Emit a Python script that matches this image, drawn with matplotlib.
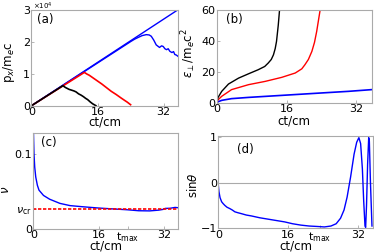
import numpy as np
import matplotlib
matplotlib.use('Agg')
import matplotlib.pyplot as plt

# (a) longitudinal momentum, units of 1e4
t_ref = [0, 35.5]
p_ref = [0, 3.0]
t_pa_k = [0, 7.6, 8.2, 8.8, 9.1, 9.6, 10.3, 10.8, 11.4, 12.0, 12.6, 13.1, 13.6, 14.2, 14.8, 15.6]
p_pa_k = [0, 0.625, 0.57, 0.53, 0.51, 0.49, 0.46, 0.43, 0.37, 0.33, 0.28, 0.23, 0.19, 0.12, 0.06, 0.0]
t_pa_r = [0, 12.8, 13.4, 14.0, 15.0, 16.0, 17.0, 18.0, 19.3, 20.5, 21.7, 22.5, 23.2, 24.0]
p_pa_r = [0, 1.04, 0.99, 0.95, 0.86, 0.77, 0.68, 0.58, 0.45, 0.35, 0.24, 0.17, 0.11, 0.03]
t_pa_b = [0, 24.1, 25.0, 25.8, 26.8, 27.8, 28.5, 29.0, 29.6, 30.2, 30.6, 31.0, 31.5, 31.9,
          32.3, 32.7, 33.1, 33.5, 34.0, 34.4, 34.7, 35.1, 35.5]
p_pa_b = [0, 2.01, 2.08, 2.13, 2.19, 2.22, 2.21, 2.17, 2.05, 1.90, 1.86, 1.82, 1.87, 1.85,
          1.78, 1.75, 1.78, 1.70, 1.66, 1.69, 1.60, 1.58, 1.54]

# (b) transverse energy
t_eb_k = [0, 0.3, 1.15, 2.7, 5.0, 7.3, 9.5, 11.0, 11.8, 12.5, 13.0, 13.4, 13.7, 14.1, 14.4]
e_eb_k = [0, 3.5, 7.5, 12.2, 16, 18.8, 21.4, 23.5, 25.7, 28, 31, 35, 39.6, 50, 60]
t_eb_r = [0, 0.3, 1.15, 3.4, 7.3, 11.1, 14.9, 18.0, 19.5, 20.2, 21.0, 21.8, 22.4, 22.9, 23.3, 23.7]
e_eb_r = [0, 2, 4.3, 8.6, 11.8, 13.9, 16.5, 19.3, 22, 24.6, 28, 33.2, 39, 46, 53, 60]
t_eb_b = [0, 0.3, 1.15, 3.4, 7.3, 14.9, 22.5, 30.2, 35.5]
e_eb_b = [0, 0.8, 1.7, 2.8, 3.6, 4.9, 6.2, 7.5, 8.6]

# (c) nu
t_nu = [0.05, 0.1, 0.17, 0.35, 0.6, 1.0, 1.4, 2.5, 4.0, 6.5, 9.0, 12.1, 16.0, 20.2, 23.0,
        25.8, 28.5, 30.7, 31.8, 32.3, 33.5, 34.7, 35.5]
nu = [0.127, 0.115, 0.1, 0.082, 0.069, 0.058, 0.0515, 0.0445, 0.0395, 0.034, 0.031, 0.0295,
      0.0278, 0.0264, 0.0255, 0.0242, 0.024, 0.025, 0.026, 0.0273, 0.0275, 0.0286, 0.0282]
nu_cr = 0.026
t_max = 23.2

# (d) sin theta
t_sin = [0, 0.15, 0.4, 0.76, 1.1, 1.5, 2.0, 2.65, 3.2, 3.8, 4.5, 5.3, 6.4, 7.6, 9.5, 11.4,
         13.3, 15.2, 17.0, 18.9, 20.8, 22.7, 24.3, 25.8, 27.0, 28.0, 28.8, 29.5, 30.3, 31.1,
         31.7, 32.2, 32.6, 33.0, 33.3, 33.6, 33.75, 33.95, 34.2, 34.45, 34.6, 34.85, 35.2]
sin_th = [-0.05, -0.2, -0.33, -0.42, -0.46, -0.5, -0.54, -0.57, -0.6, -0.64, -0.66, -0.68,
          -0.71, -0.73, -0.77, -0.8, -0.83, -0.86, -0.9, -0.93, -0.95, -0.96, -0.97, -0.95,
          -0.9, -0.78, -0.6, -0.32, 0.12, 0.62, 0.88, 0.98, 0.85, 0.3, -0.4, -0.95, -0.98,
          -0.5, 0.4, 0.98, 0.9, 0.0, -0.95]

fs = 8.5
spine_c = '#aaaaaa'

fig = plt.figure(figsize=(3.74, 2.52), dpi=100)
ax1 = fig.add_axes([0.0842, 0.5806, 0.392, 0.381])
ax2 = fig.add_axes([0.5794, 0.5913, 0.4144, 0.370])
ax3 = fig.add_axes([0.089, 0.0913, 0.3877, 0.380])
ax4 = fig.add_axes([0.5837, 0.094, 0.4144, 0.367])

xl_y = {ax1: -0.10, ax2: -0.125, ax3: -0.11, ax4: -0.12}
for ax in [ax1, ax2, ax3, ax4]:
    for s in ax.spines.values():
        s.set_color(spine_c)
        s.set_linewidth(0.8)
    ax.tick_params(direction='in', length=2, width=0.6, color=spine_c,
                   labelsize=8, pad=1)
    ax.set_xlim(0, 35.5)
    ax.set_xlabel('ct/cm', fontsize=8.5)
    ax.xaxis.set_label_coords(0.5, xl_y[ax])

# (a)
ax1.plot(t_ref, p_ref, color='b', lw=1)
ax1.plot(t_pa_b, p_pa_b, color='b', lw=1)
ax1.plot(t_pa_r, p_pa_r, color='r', lw=1.2)
ax1.plot(t_pa_k, p_pa_k, color='k', lw=1.2)
ax1.set_ylim(0, 3)
ax1.set_yticks([0, 1, 2, 3])
ax1.set_xticks([0, 16, 32])
fig.text(0.088, 0.999, r'$\times10^4$', fontsize=5, va='top', ha='left')
ax1.set_ylabel('p$_x$/m$_e$c', fontsize=fs)
ax1.yaxis.set_label_coords(-0.099, 0.455)
ax1.text(0.04, 0.97, '(a)', transform=ax1.transAxes, fontsize=fs, va='top')

# (b)
ax2.plot(t_eb_b, e_eb_b, color='b', lw=1.2)
ax2.plot(t_eb_r, e_eb_r, color='r', lw=1)
ax2.plot(t_eb_k, e_eb_k, color='k', lw=1)
ax2.set_ylim(0, 60)
ax2.set_yticks([0, 20, 40, 60])
ax2.set_xticks([0, 16, 32])
ax2.set_ylabel(r'$\varepsilon_\perp$/m$_e$c$^2$', fontsize=fs)
ax2.yaxis.set_label_coords(-0.12, 0.536)
ax2.text(0.06, 0.97, '(b)', transform=ax2.transAxes, fontsize=fs, va='top')

# (c)
ax3.plot(t_nu, nu, color='b', lw=1)
ax3.axhline(nu_cr, color='r', lw=1.2, ls=(0, (2, 1)))
ax3.set_ylim(0, 0.127)
ax3.set_yticks([0, nu_cr, 0.1])
ax3.set_yticklabels(['0', r'$\nu_{\rm cr}$', '0.1'])
ax3.set_xticks([0, 16, t_max, 32])
ax3.set_xticklabels(['0', '16', 't$_{\\rm max}$', '32'])
ax3.set_ylabel(r'$\nu$', fontsize=fs)
ax3.yaxis.set_label_coords(-0.147, 0.41)
ax3.text(0.05, 0.97, '(c)', transform=ax3.transAxes, fontsize=fs, va='top')

# (d)
ax4.axhline(0, color=spine_c, lw=0.8)
ax4.plot(t_sin, sin_th, color='b', lw=1)
ax4.set_ylim(-1.0, 1.02)
ax4.set_yticks([-1, 0, 1])
ax4.set_xticks([0, 16, t_max, 32])
ax4.set_xticklabels(['0', '16', 't$_{\\rm max}$', '32'])
ax4.set_ylabel(r'sin$\theta$', fontsize=fs)
ax4.yaxis.set_label_coords(-0.118, 0.468)
ax4.text(0.12, 0.92, '(d)', transform=ax4.transAxes, fontsize=fs, va='top')

plt.savefig('out.png', dpi=100)
